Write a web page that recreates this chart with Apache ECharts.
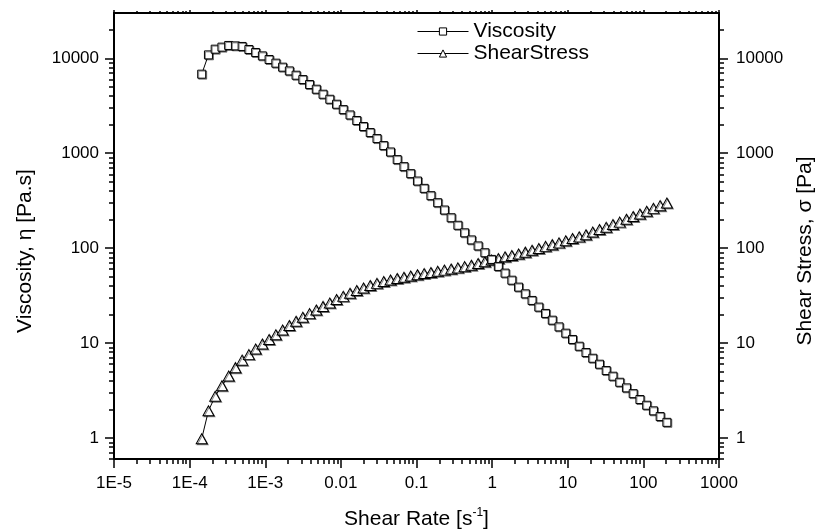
<!DOCTYPE html>
<html>
<head>
<meta charset="utf-8">
<script src="https://cdn.jsdelivr.net/npm/echarts@6/dist/echarts.min.js"></script>
<style>html,body{margin:0;padding:0;background:#fff}#c{width:818px;height:532px}</style>
</head>
<body>
<div id="c"></div>
<script>
const shearRate = [1.444e-4, 1.774e-4, 2.178e-4, 2.674e-4, 3.283e-4, 4.031e-4, 4.950e-4, 6.077e-4, 7.463e-4, 9.162e-4,
  1.125e-3, 1.381e-3, 1.696e-3, 2.083e-3, 2.557e-3, 3.140e-3, 3.855e-3, 4.733e-3, 5.813e-3, 7.137e-3,
  8.766e-3, 0.01076, 0.01321, 0.01622, 0.01992, 0.02445, 0.03003, 0.03687, 0.04528, 0.05559,
  0.06827, 0.08382, 0.1029, 0.1264, 0.1552, 0.1905, 0.2339, 0.2872, 0.3527, 0.4330,
  0.5317, 0.6529, 0.8017, 0.9842, 1.209, 1.484, 1.822, 2.237, 2.747, 3.373,
  4.142, 5.086, 6.245, 7.667, 9.415, 11.56, 14.19, 17.43, 21.40, 26.28,
  32.27, 39.62, 48.64, 59.72, 73.34, 90.03, 110.6, 135.8, 166.7, 204.6];
const viscosity = [6800, 10860, 12470, 13100, 13650, 13510, 13320, 12380, 11510, 10600,
  9710, 8880, 8060, 7360, 6630, 5970, 5290, 4720, 4180, 3700,
  3280, 2880, 2530, 2210, 1910, 1650, 1426, 1203, 1030, 856,
  722, 609, 509, 426, 357, 301, 252, 209, 174, 145,
  122, 105.5, 89.4, 76.0, 64.1, 54.5, 45.9, 38.8, 33.0, 28.1,
  23.9, 20.5, 17.4, 14.8, 12.7, 10.9, 9.25, 7.94, 6.91, 5.98,
  5.13, 4.47, 3.86, 3.37, 2.93, 2.54, 2.21, 1.93, 1.68, 1.46];
const shearStress = [0.98, 1.93, 2.75, 3.55, 4.5, 5.5, 6.6, 7.55, 8.65, 9.75,
  10.9, 12.2, 13.7, 15.3, 16.95, 18.7, 20.4, 22.3, 24.3, 26.4,
  28.7, 31.0, 33.4, 35.8, 38.0, 40.3, 42.5, 44.4, 46.2, 47.8,
  49.3, 50.9, 52.4, 53.9, 55.4, 57.0, 58.6, 60.2, 61.9, 63.8,
  66.0, 68.8, 71.7, 74.8, 77.5, 80.9, 83.6, 86.8, 90.6, 94.8,
  99.0, 104.3, 108.7, 113.5, 119.6, 126.0, 131.3, 138.4, 147.9, 157.2,
  165.5, 177.1, 187.8, 201.3, 214.9, 228.7, 244.4, 262.1, 280.1, 298.7];

const xMajor = [1e-5, 1e-4, 1e-3, 0.01, 0.1, 1, 10, 100, 1000];
const xTickLabels = ['1E-5', '1E-4', '1E-3', '0.01', '0.1', '1', '10', '100', '1000'];
const xMinor = [2e-5,3e-5,4e-5,5e-5,6e-5,7e-5,8e-5,9e-5,
  2e-4,3e-4,4e-4,5e-4,6e-4,7e-4,8e-4,9e-4,
  2e-3,3e-3,4e-3,5e-3,6e-3,7e-3,8e-3,9e-3,
  0.02,0.03,0.04,0.05,0.06,0.07,0.08,0.09,
  0.2,0.3,0.4,0.5,0.6,0.7,0.8,0.9,
  2,3,4,5,6,7,8,9,
  20,30,40,50,60,70,80,90,
  200,300,400,500,600,700,800,900];
const yMajor = [1, 10, 100, 1000, 10000];
const yTickLabels = ['1', '10', '100', '1000', '10000'];
const yMinor = [0.6,0.7,0.8,0.9,
  2,3,4,5,6,7,8,9,
  20,30,40,50,60,70,80,90,
  200,300,400,500,600,700,800,900,
  2000,3000,4000,5000,6000,7000,8000,9000,
  20000];

const FONT = '"Liberation Sans", Arial, sans-serif';
function lookup(majors, labels) {
  return function (v) {
    for (let i = 0; i < majors.length; i++) {
      if (Math.abs(Math.log10(majors[i]) - Math.log10(v)) < 1e-6) return labels[i];
    }
    return '';
  };
}
const lineStyle = { color: '#000', width: 2 };

function xAx(pos, showLine, ticks, tickLen, labels, extra) {
  return Object.assign({
    type: 'log', logBase: 10, position: pos, min: 1e-5, max: 1000, gridIndex: 0,
    axisLine: { show: showLine, onZero: false, lineStyle: lineStyle },
    axisTick: { show: true, inside: false, length: tickLen, customValues: ticks, lineStyle: { color: '#000', width: 1.5 } },
    axisLabel: labels ? { show: true, customValues: xMajor, formatter: lookup(xMajor, xTickLabels), margin: 16,
      color: '#000', fontSize: 17, fontFamily: FONT } : { show: false },
    splitLine: { show: false }, minorTick: { show: false }, minorSplitLine: { show: false }
  }, extra || {});
}
function yAx(pos, showLine, ticks, tickLen, labels, extra) {
  return Object.assign({
    type: 'log', logBase: 10, position: pos, min: 0.6, max: 30000, gridIndex: 0,
    axisLine: { show: showLine, onZero: false, lineStyle: lineStyle },
    axisTick: { show: true, inside: false, length: tickLen, customValues: ticks, lineStyle: { color: '#000', width: 1.5 } },
    axisLabel: labels ? { show: true, customValues: yMajor, formatter: lookup(yMajor, yTickLabels), margin: pos === 'left' ? 15 : 17,
      color: '#000', fontSize: 17, fontFamily: FONT } : { show: false },
    splitLine: { show: false }, minorTick: { show: false }, minorSplitLine: { show: false }
  }, extra || {});
}

const chart = echarts.init(document.getElementById('c'), null, { renderer: 'canvas' });
chart.setOption({
  animation: false,
  backgroundColor: '#fff',
  textStyle: { fontFamily: FONT, color: '#000' },
  grid: { left: 114, right: 99, top: 13, bottom: 73, containLabel: false, outerBoundsMode: 'none' },
  legend: {
    orient: 'vertical', left: 417, top: 21, padding: 0, itemWidth: 51, itemHeight: 9, itemGap: 1,
    textStyle: { fontSize: 21, fontFamily: FONT, color: '#000' },
    itemStyle: { color: '#fff', borderColor: '#000', borderWidth: 1 },
    lineStyle: { color: '#000', width: 1 },
    data: ['Viscosity', 'ShearStress']
  },
  xAxis: [
    xAx('bottom', true, xMajor, 9, true, {
      name: 'Shear Rate [s{sup|-1}]', nameLocation: 'middle', nameGap: 48, nameMoveOverlap: false,
      nameTextStyle: { color: '#000', fontFamily: FONT, rich: {
        n: { fontSize: 21, fontFamily: FONT, color: '#000' },
        sup: { fontSize: 12, fontFamily: FONT, color: '#000', verticalAlign: 'top', lineHeight: 12 }
      }, fontSize: 21, lineHeight: 24 }
    }),
    xAx('bottom', false, xMinor, 5, false),
    xAx('top', true, xMajor, 3, false),
    xAx('top', false, xMinor, 2, false)
  ],
  yAxis: [
    yAx('left', true, yMajor, 9, true, {
      name: 'Viscosity, η [Pa.s]', nameLocation: 'middle', nameGap: 78, nameMoveOverlap: false,
      nameTextStyle: { color: '#000', fontFamily: FONT, fontSize: 21, padding: [0, 30, 0, 0] }
    }),
    yAx('left', false, yMinor, 5, false),
    yAx('right', true, yMajor, 9, true, {
      name: 'Shear Stress, σ [Pa]', nameLocation: 'middle', nameGap: 76, nameMoveOverlap: false,
      nameTextStyle: { color: '#000', fontFamily: FONT, fontSize: 21, padding: [0, 30, 0, 0] }
    }),
    yAx('right', false, yMinor, 5, false)
  ],
  series: [
    {
      name: 'Viscosity', type: 'line', xAxisIndex: 0, yAxisIndex: 0,
      data: shearRate.map(function (x, i) { return [x, viscosity[i]]; }),
      symbol: 'rect', symbolSize: 8, showAllSymbol: true,
      lineStyle: { color: '#000', width: 1 },
      itemStyle: { color: '#fff', borderColor: '#000', borderWidth: 1, shadowColor: 'rgba(0,0,0,0.45)', shadowOffsetX: 1, shadowOffsetY: 1, shadowBlur: 0 },
      emphasis: { disabled: true }, z: 3
    },
    {
      name: 'ShearStress', type: 'line', xAxisIndex: 0, yAxisIndex: 2,
      data: shearRate.map(function (x, i) { return [x, shearStress[i]]; }),
      symbol: 'triangle', symbolSize: [11, 10], showAllSymbol: true,
      lineStyle: { color: '#000', width: 1 },
      itemStyle: { color: '#fff', borderColor: '#000', borderWidth: 1, shadowColor: 'rgba(0,0,0,0.45)', shadowOffsetX: 1, shadowOffsetY: 1, shadowBlur: 0 },
      emphasis: { disabled: true }, z: 2
    }
  ]
});
</script>
</body>
</html>
